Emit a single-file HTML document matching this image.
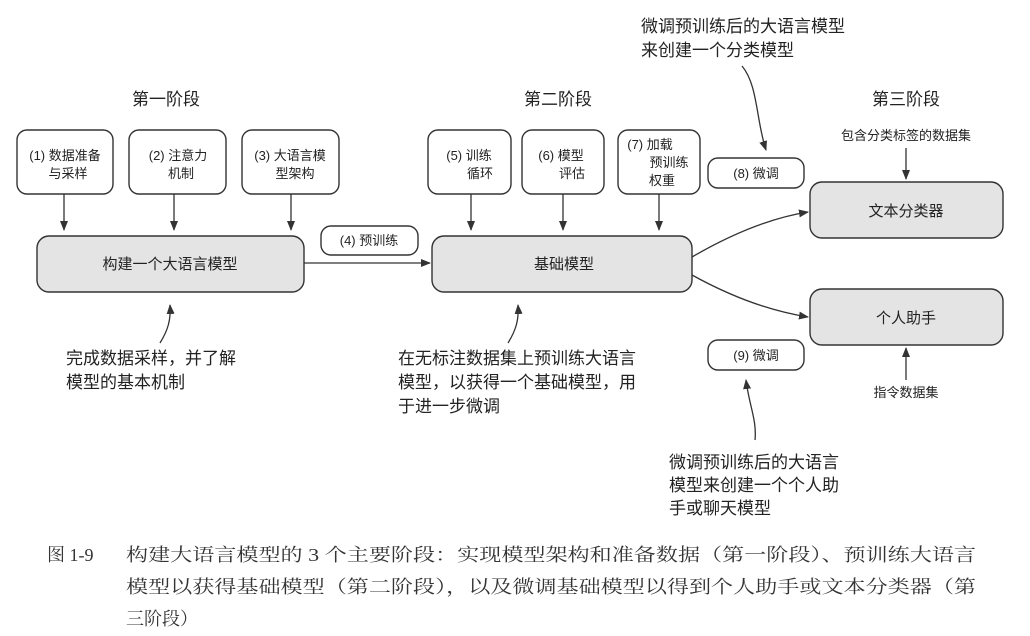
<!DOCTYPE html>
<html><head><meta charset="utf-8"><style>
html,body{margin:0;padding:0;background:#fff;}
svg{display:block}
text{font-family:"Liberation Sans","Noto Sans CJK SC",sans-serif;fill:#222;}
.s{font-family:"Liberation Serif","Noto Serif CJK SC",serif;fill:#333;}
</style></head><body>
<svg width="1030" height="636" viewBox="0 0 1030 636" xmlns="http://www.w3.org/2000/svg">
<defs><marker id="a" markerWidth="10" markerHeight="8" refX="9" refY="4" orient="auto" markerUnits="userSpaceOnUse"><path d="M0,0 L10,4 L0,8 z" fill="#333"/></marker></defs>
<g stroke="#333" stroke-width="1.4" fill="#fff">
<rect x="17" y="130" width="96" height="64" rx="10"/>
<rect x="129" y="130" width="97" height="64" rx="10"/>
<rect x="242" y="130" width="97" height="64" rx="10"/>
<rect x="428" y="130" width="83" height="64" rx="10"/>
<rect x="522" y="130" width="82" height="64" rx="10"/>
<rect x="618" y="130" width="82" height="64" rx="10"/>
<rect x="708" y="158" width="96" height="30" rx="10"/>
<rect x="321" y="226" width="97" height="29" rx="10"/>
<rect x="708" y="340" width="96" height="30" rx="10"/>
</g>
<g stroke="#333" stroke-width="1.4" fill="#e4e4e4">
<rect x="37" y="236" width="267" height="56" rx="12"/>
<rect x="432" y="236" width="260" height="56" rx="12"/>
<rect x="810" y="182" width="193" height="56" rx="12"/>
<rect x="810" y="289" width="193" height="56" rx="12"/>
</g>
<g stroke="#333" stroke-width="1.3" fill="none" marker-end="url(#a)">
<line x1="64" y1="194" x2="64" y2="230"/>
<line x1="174" y1="194" x2="174" y2="230"/>
<line x1="291" y1="194" x2="291" y2="230"/>
<line x1="304" y1="263" x2="430" y2="263"/>
<line x1="471" y1="194" x2="471" y2="230"/>
<line x1="563" y1="194" x2="563" y2="230"/>
<line x1="659" y1="194" x2="659" y2="230"/>
<path d="M692,257 C730,235 770,218 808,212"/>
<path d="M692,275 C730,296 770,311 808,317"/>
<line x1="906" y1="148" x2="906" y2="179"/>
<line x1="906" y1="380" x2="906" y2="348"/>
<path d="M160,343 C168,330 171,320 170,305"/>
<path d="M508,343 C516,330 519,320 518,305"/>
<path d="M742,66 C758,85 756,120 766,150"/>
<path d="M710,440 C712,420 704,405 701,380" transform="translate(45,0)"/>
</g>
<text x="166" y="105" font-size="17" text-anchor="middle">第一阶段</text>
<text x="558" y="105" font-size="17" text-anchor="middle">第二阶段</text>
<text x="906" y="105" font-size="17" text-anchor="middle">第三阶段</text>
<g font-size="13" text-anchor="middle">
<text x="65" y="160">(1) 数据准备</text><text x="68" y="178">与采样</text>
<text x="178" y="160">(2) 注意力</text><text x="181" y="178">机制</text>
<text x="290" y="160">(3) 大语言模</text><text x="295" y="178">型架构</text>
<text x="469" y="160">(5) 训练</text><text x="480" y="178">循环</text>
<text x="561" y="160">(6) 模型</text><text x="572" y="178">评估</text>
<text x="650" y="149">(7) 加载</text><text x="669" y="167">预训练</text><text x="662" y="185">权重</text>
<text x="756" y="178">(8) 微调</text>
<text x="369" y="245">(4) 预训练</text>
<text x="756" y="360">(9) 微调</text>
<text x="906" y="140">包含分类标签的数据集</text>
<text x="906" y="397">指令数据集</text>
</g>
<g font-size="15" text-anchor="middle">
<text x="170" y="269">构建一个大语言模型</text>
<text x="564" y="269">基础模型</text>
<text x="906" y="216">文本分类器</text>
<text x="906" y="323">个人助手</text>
</g>
<g font-size="17">
<text x="66" y="364">完成数据采样，并了解</text>
<text x="66" y="388">模型的基本机制</text>
<text x="398" y="364">在无标注数据集上预训练大语言</text>
<text x="398" y="388">模型，以获得一个基础模型，用</text>
<text x="398" y="412">于进一步微调</text>
<text x="641" y="32">微调预训练后的大语言模型</text>
<text x="641" y="56">来创建一个分类模型</text>
<text x="669" y="468">微调预训练后的大语言</text>
<text x="669" y="491">模型来创建一个个人助</text>
<text x="669" y="514">手或聊天模型</text>
</g>
<g font-size="18" class="s">
<text class="s" x="47" y="561">图 1-9</text>
<text class="s" x="126" y="561" textLength="850" lengthAdjust="spacingAndGlyphs">构建大语言模型的 3 个主要阶段：实现模型架构和准备数据（第一阶段）、预训练大语言</text>
<text class="s" x="126" y="593" textLength="850" lengthAdjust="spacingAndGlyphs">模型以获得基础模型（第二阶段），以及微调基础模型以得到个人助手或文本分类器（第</text>
<text class="s" x="126" y="625">三阶段）</text>
</g>
</svg>
</body></html>
